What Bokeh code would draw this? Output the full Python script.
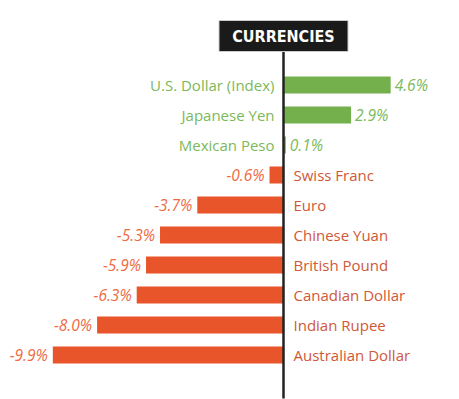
from bokeh.plotting import figure
from bokeh.models import Range1d, ColumnDataSource
from bokeh.core.properties import value
from bokeh.embed import file_html
from bokeh.resources import INLINE

currencies = ["U.S. Dollar (Index)", "Japanese Yen", "Mexican Peso", "Swiss Franc", "Euro",
              "Chinese Yuan", "British Pound", "Canadian Dollar", "Indian Rupee", "Australian Dollar"]
changes = [4.6, 2.9, 0.1, -0.6, -3.7, -5.3, -5.9, -6.3, -8.0, -9.9]
title_text = "CURRENCIES"

GREEN_BAR = "#74b14c"
GREEN_TXT = "#7cb95a"
ORANGE_BAR = "#e8552a"
ORANGE_VAL = "#ef6a42"
ORANGE_NAME = "#cf5838"

pos = list(range(len(currencies)))
bar_col = [GREEN_BAR if v >= 0 else ORANGE_BAR for v in changes]
name_col = [GREEN_TXT if v >= 0 else ORANGE_NAME for v in changes]
val_col = [GREEN_TXT if v >= 0 else ORANGE_VAL for v in changes]
val_txt = [f"{v:.1f}%" for v in changes]
name_align = ["right" if v >= 0 else "left" for v in changes]
val_align = ["left" if v >= 0 else "right" for v in changes]
name_off = [-9 if v >= 0 else 10 for v in changes]
val_off = [4 if v >= 0 else -5 for v in changes]
zeros = [0] * len(changes)

src = ColumnDataSource(dict(y=pos, v=changes, z=zeros, bc=bar_col, nc=name_col, vc=val_col,
                            vt=val_txt, name=currencies, na=name_align, va=val_align,
                            no=name_off, vo=val_off))

W, H = 459, 399
px_per_unit = 23.3
x0_px = 283
p = figure(width=W, height=H, output_backend="svg", toolbar_location=None,
           x_range=Range1d(-x0_px / px_per_unit, (W - x0_px) / px_per_unit),
           y_range=Range1d((H - 84.5) / 30.0, -84.5 / 30.0),
           min_border=0, background_fill_color="white", border_fill_color="white")
p.axis.visible = False
p.grid.visible = False
p.outline_line_color = None

p.hbar(y="y", left="z", right="v", height=0.57, fill_color="bc", line_color=None, source=src)

# zero line
p.segment(x0=[0], y0=[-1.2], x1=[0], y1=[(H - 1 - 84.5) / 30.0], line_color="#222222", line_width=2.5)

p.text(x="z", y="y", text="name", text_align="na", text_baseline="middle", x_offset="no",
       text_color="nc", text_font=value("Open Sans"), text_font_size="15px", source=src)
p.text(x="v", y="y", text="vt", text_align="va", text_baseline="middle", x_offset="vo",
       text_color="vc", text_font=value("Open Sans"), text_font_style="italic", text_font_size="15.5px",
       source=src)

# title box
p.rect(x=[0], y=[(35.5 - 84.5) / 30.0], width=129, height=31, width_units="screen",
       height_units="screen", fill_color="#1a1a1a", line_color="#cccccc", line_width=1)
p.text(x=[0], y=[(36 - 84.5) / 30.0], text=[title_text], text_align="center", text_baseline="middle",
       text_color="white", text_font=value("DejaVu Sans Condensed"), text_font_style="bold",
       text_font_size="16px")

open("out.html", "w").write(file_html(p, INLINE))
